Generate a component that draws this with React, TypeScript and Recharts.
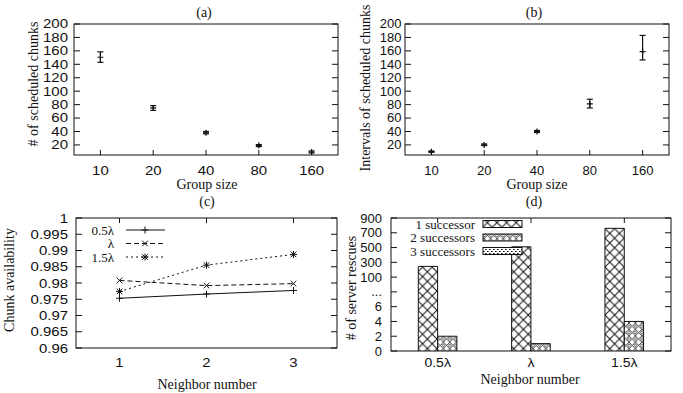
import React from "react";
import {
  Bar,
  BarChart,
  ComposedChart,
  ErrorBar,
  Legend,
  Line,
  LineChart,
  Scatter,
  XAxis,
  YAxis,
} from "recharts";

// (a) / (b): group size sweep
const groupSizes = ["10", "20", "40", "80", "160"];
const chunkMean = [150.5, 75, 38, 19, 9.5];
const chunkLow = [143, 71.5, 36.5, 17.5, 8];
const chunkHigh = [158.5, 78.5, 40, 20.5, 11];
const intervalMean = [10, 20, 40, 81, 159];
const intervalLow = [9, 19, 38.5, 75, 146.5];
const intervalHigh = [11, 21.5, 41.5, 88, 183];
const countTicks = [20, 40, 60, 80, 100, 120, 140, 160, 180, 200];

// (c): chunk availability vs neighbor number
const neighbors = [1, 2, 3];
const avail05 = [0.9753, 0.9766, 0.9777];
const avail10 = [0.9808, 0.9792, 0.9798];
const avail15 = [0.9774, 0.9855, 0.9888];
const availTicks = [0.96, 0.965, 0.97, 0.975, 0.98, 0.985, 0.99, 0.995, 1];

// (d): server rescues
const rateLabels = ["0.5λ", "λ", "1.5λ"];
const rescue1 = [245, 510, 760];
const rescue2 = [2, 1, 4];
const rescue3 = [0, 0, 0];
const rescueTickValues = [0, 2, 4, 6, 8, 10, 12, 14, 16, 18];
const rescueTicks = ["0", "2", "4", "6", "...", "100", "300", "500", "700", "900"];

const SANS = '"Liberation Sans", Arial, sans-serif';
const SERIF = '"Liberation Serif", "Times New Roman", serif';
const INK = "#111";

// broken axis of (d): 0..8 linear, then one step of 2 per 200 rescues from 100 up
const toAxis = (v: number) => (v <= 8 ? v : 10 + (v - 100) / 100);

const chunkData = groupSizes.map((g, i) => ({
  x: i + 1,
  mean: chunkMean[i],
  err: [chunkMean[i] - chunkLow[i], chunkHigh[i] - chunkMean[i]],
}));
const intervalData = groupSizes.map((g, i) => ({
  x: i + 1,
  mean: intervalMean[i],
  err: [intervalMean[i] - intervalLow[i], intervalHigh[i] - intervalMean[i]],
}));
const availData = neighbors.map((n, i) => ({
  n,
  v05: avail05[i],
  v10: avail10[i],
  v15: avail15[i],
}));
const rescueData = rateLabels.map((r, i) => ({
  rate: r,
  pad: 0,
  s1: toAxis(rescue1[i]),
  s2: toAxis(rescue2[i]),
  s3: toAxis(rescue3[i]),
}));

const availSeries = [
  { key: "v05", name: "0.5λ", dash: undefined, mark: "plus" },
  { key: "v10", name: "λ", dash: "5 3", mark: "cross" },
  { key: "v15", name: "1.5λ", dash: "2 3", mark: "star" },
];
const rescueSeries = [
  { key: "s1", name: "1 successor", fill: "1" },
  { key: "s2", name: "2 successors", fill: "2" },
  { key: "s3", name: "3 successors", fill: "3" },
];

// axes are 1px wide/high (recharts skips 0-sized axes); the frame is the plot box
function layout(w: number, h: number, left: number, top: number, right: number, bottom: number) {
  return {
    w,
    h,
    plotW: right - left,
    plotH: bottom - top,
    frame: { x: left, y: top, width: right - left, height: bottom - top },
    margin: { left: left - 1, top, right: w - right, bottom: h - bottom - 1 },
  };
}

function markPath(kind: string, cx: number, cy: number, r: number) {
  const plus = `M${cx - r},${cy}H${cx + r}M${cx},${cy - r}V${cy + r}`;
  const d = r * 0.8;
  const cross = `M${cx - d},${cy - d}L${cx + d},${cy + d}M${cx + d},${cy - d}L${cx - d},${cy + d}`;
  if (kind === "plus") return plus;
  if (kind === "cross") return cross;
  return plus + cross;
}

function yTick(plotW: number, gap: number, size: number, sx: number, fmt: (v: number) => string) {
  return (p: any) => {
    const { x, y, payload, index } = p;
    return (
      <g key={`yt-${index}`}>
        <line x1={x} x2={x + 6} y1={y} y2={y} stroke={INK} />
        <line x1={x + plotW} x2={x + plotW - 6} y1={y} y2={y} stroke={INK} />
        <text
          transform={`translate(${x - gap},${y + size * 0.35}) scale(${sx},1)`}
          textAnchor="end"
          fontFamily={SANS}
          fontSize={size}
          fill={INK}
        >
          {fmt(payload.value)}
        </text>
      </g>
    );
  };
}

function xTick(plotH: number, top: boolean, labelDy: number, sx: number, fmt: (v: any) => string) {
  return (p: any) => {
    const { x, y, payload, index } = p;
    return (
      <g key={`xt-${index}`}>
        {top ? (
          <line x1={x} x2={x} y1={y - plotH} y2={y - plotH + 5} stroke={INK} />
        ) : (
          <line x1={x} x2={x} y1={y} y2={y - 5} stroke={INK} />
        )}
        <text
          transform={`translate(${x},${y + labelDy}) scale(${sx},1)`}
          textAnchor="middle"
          fontFamily={SANS}
          fontSize={13}
          fill={INK}
        >
          {fmt(payload.value)}
        </text>
      </g>
    );
  };
}

const centerMark = (p: any) => (
  <path d={markPath("plus", p.cx, p.cy, 3)} stroke={INK} strokeWidth={1.2} fill="none" />
);

function ErrorPanel({ data, lay, gap, sx, ysx }: any) {
  return (
    <ComposedChart width={lay.w} height={lay.h} data={data} margin={lay.margin}>
      <XAxis
        dataKey="x"
        type="number"
        domain={[0.5, 5.5]}
        ticks={[1, 2, 3, 4, 5]}
        interval={0}
        height={1}
        tickSize={0}
        tickMargin={0}
        axisLine={false}
        tickLine={false}
        tick={xTick(lay.plotH, false, 20, sx, (v) => groupSizes[v - 1])}
      />
      <YAxis
        type="number"
        domain={[5, 200]}
        ticks={countTicks}
        interval={0}
        allowDataOverflow
        width={1}
        tickSize={0}
        tickMargin={0}
        axisLine={false}
        tickLine={false}
        tick={yTick(lay.plotW, gap, 12.5, ysx, (v) => String(v))}
      />
      <Scatter dataKey="mean" shape={centerMark} isAnimationActive={false}>
        <ErrorBar dataKey="err" direction="y" width={3} stroke={INK} strokeWidth={1.2} isAnimationActive={false} />
      </Scatter>
      <rect {...lay.frame} fill="none" stroke={INK} />
    </ComposedChart>
  );
}

const availLegend = () => (
  <svg width={110} height={42}>
    {availSeries.map((s, i) => {
      const y = 7 + i * 13.5;
      return (
        <g key={s.key}>
          <text x={54} y={y + 4.5} textAnchor="end" fontFamily={SERIF} fontSize={13} fill={INK}>
            {s.name}
          </text>
          <line x1={66} x2={105} y1={y} y2={y} stroke={INK} strokeDasharray={s.dash} />
          <path d={markPath(s.mark, 85, y, 3.5)} stroke={INK} fill="none" />
        </g>
      );
    })}
  </svg>
);

function AvailPanel() {
  const lay = layout(341, 198, 76, 23, 337, 153);
  return (
    <LineChart width={lay.w} height={lay.h} data={availData} margin={lay.margin}>
      <XAxis
        dataKey="n"
        type="number"
        domain={[0.5, 3.5]}
        ticks={neighbors}
        interval={0}
        height={1}
        tickSize={0}
        tickMargin={0}
        axisLine={false}
        tickLine={false}
        tick={xTick(lay.plotH, true, 18.5, 1.15, (v) => String(v))}
      />
      <YAxis
        type="number"
        domain={[0.96, 1]}
        ticks={availTicks}
        interval={0}
        allowDataOverflow
        width={1}
        tickSize={0}
        tickMargin={0}
        axisLine={false}
        tickLine={false}
        tick={yTick(lay.plotW, 8, 13, 1.15, (v) => String(+v.toFixed(3)))}
      />
      <Legend
        layout="vertical"
        align="center"
        verticalAlign="middle"
        content={availLegend}
        wrapperStyle={{ left: 60, top: 28, width: 110 }}
      />
      {availSeries.map((s) => (
        <Line
          key={s.key}
          dataKey={s.key}
          name={s.name}
          stroke={INK}
          strokeWidth={1}
          strokeDasharray={s.dash}
          isAnimationActive={false}
          dot={(p: any) => (
            <path key={`${s.key}-${p.index}`} d={markPath(s.mark, p.cx, p.cy, 3.5)} stroke={INK} fill="none" />
          )}
          activeDot={false}
        />
      ))}
      <rect {...lay.frame} fill="none" stroke={INK} />
    </LineChart>
  );
}

function Patterns({ prefix }: { prefix: string }) {
  return (
    <defs>
      <pattern id={`${prefix}1`} patternUnits="userSpaceOnUse" width={9.6} height={9.6}>
        <rect width={9.6} height={9.6} fill="#fff" />
        <path d="M0,0L9.6,9.6M9.6,0L0,9.6" stroke={INK} strokeWidth={1} />
      </pattern>
      <pattern id={`${prefix}2`} patternUnits="userSpaceOnUse" width={6.4} height={6.4}>
        <rect width={6.4} height={6.4} fill="#fff" />
        <path d="M0,0L6.4,6.4M6.4,0L0,6.4" stroke={INK} strokeWidth={0.7} />
        <circle cx={0} cy={3.2} r={1.3} fill="#fff" stroke={INK} strokeWidth={0.6} />
        <circle cx={6.4} cy={3.2} r={1.3} fill="#fff" stroke={INK} strokeWidth={0.6} />
      </pattern>
      <pattern id={`${prefix}3`} patternUnits="userSpaceOnUse" width={4} height={4}>
        <rect width={4} height={4} fill="#fff" />
        <rect x={0} y={0} width={1.6} height={1} fill={INK} />
        <rect x={2} y={2} width={1.6} height={1} fill={INK} />
      </pattern>
    </defs>
  );
}

const rescueLegend = () => (
  <svg width={125} height={46}>
    <Patterns prefix="lg" />
    {rescueSeries.map((s, i) => {
      const y = 11 + i * 13.5;
      return (
        <g key={s.key}>
          <text x={74} y={y + 4.5} textAnchor="end" fontFamily={SERIF} fontSize={13} fill={INK}>
            {s.name}
          </text>
          <rect x={82} y={y - 3.5} width={39} height={7} fill={`url(#lg${s.fill})`} stroke={INK} />
        </g>
      );
    })}
  </svg>
);

function RescuePanel() {
  const lay = layout(342, 198, 50, 23, 330, 156);
  return (
    <BarChart width={lay.w} height={lay.h} data={rescueData} margin={lay.margin} barGap={0} barSize={19.3}>
      <Patterns prefix="bp" />
      <XAxis
        dataKey="rate"
        type="category"
        interval={0}
        height={1}
        tickSize={0}
        tickMargin={0}
        axisLine={false}
        tickLine={false}
        tick={xTick(lay.plotH, true, 16, 1.08, (v) => String(v))}
      />
      <YAxis
        type="number"
        domain={[0, 18]}
        ticks={rescueTickValues}
        interval={0}
        allowDataOverflow
        width={1}
        tickSize={0}
        tickMargin={0}
        axisLine={false}
        tickLine={false}
        tick={yTick(lay.plotW, 9, 13, 1.0, (v) => rescueTicks[rescueTickValues.indexOf(v)])}
      />
      <Legend
        layout="vertical"
        align="center"
        verticalAlign="middle"
        content={rescueLegend}
        wrapperStyle={{ left: 60, top: 18, width: 125 }}
      />
      <Bar dataKey="pad" fill="none" isAnimationActive={false} />
      {rescueSeries.map((s) => (
        <Bar
          key={s.key}
          dataKey={s.key}
          name={s.name}
          fill={`url(#bp${s.fill})`}
          stroke={INK}
          strokeWidth={1}
          isAnimationActive={false}
        />
      ))}
      <rect {...lay.frame} fill="none" stroke={INK} />
    </BarChart>
  );
}

function Caption({ x, y, rot, children }: any) {
  return (
    <div
      style={{
        position: "absolute",
        left: x,
        top: y,
        transform: `translate(-50%,-50%)${rot ? " rotate(-90deg)" : ""}`,
        fontFamily: SERIF,
        fontSize: 14,
        lineHeight: 1,
        whiteSpace: "nowrap",
        color: INK,
      }}
    >
      {children}
    </div>
  );
}

const layA = layout(341, 195, 74, 24, 338, 155);
const layB = layout(342, 195, 64, 24, 328, 155);

export default function App() {
  return (
    <div
      style={{
        position: "absolute",
        left: 0,
        top: 0,
        width: 683,
        height: 393,
        background: "#fff",
        overflow: "hidden",
      }}
    >
      <div style={{ position: "absolute", left: 0, top: 0 }}>
        <ErrorPanel data={chunkData} lay={layA} gap={6} sx={1.15} ysx={1.2} />
      </div>
      <div style={{ position: "absolute", left: 341, top: 0 }}>
        <ErrorPanel data={intervalData} lay={layB} gap={3.5} sx={1.0} ysx={1.04} />
      </div>
      <div style={{ position: "absolute", left: 0, top: 195 }}>
        <AvailPanel />
      </div>
      <div style={{ position: "absolute", left: 341, top: 195 }}>
        <RescuePanel />
      </div>

      <Caption x={204} y={13}>(a)</Caption>
      <Caption x={534} y={13}>(b)</Caption>
      <Caption x={207} y={202}>(c)</Caption>
      <Caption x={534} y={202}>(d)</Caption>
      <Caption x={207} y={185}>Group size</Caption>
      <Caption x={537} y={185}>Group size</Caption>
      <Caption x={207} y={385}>Neighbor number</Caption>
      <Caption x={530} y={380}>Neighbor number</Caption>
      <Caption x={34} y={84} rot>
        # of scheduled chunks
      </Caption>
      <Caption x={366} y={88} rot>
        Intervals of scheduled chunks
      </Caption>
      <Caption x={10} y={280} rot>
        Chunk availability
      </Caption>
      <Caption x={351.5} y={288} rot>
        # of server rescues
      </Caption>
    </div>
  );
}
